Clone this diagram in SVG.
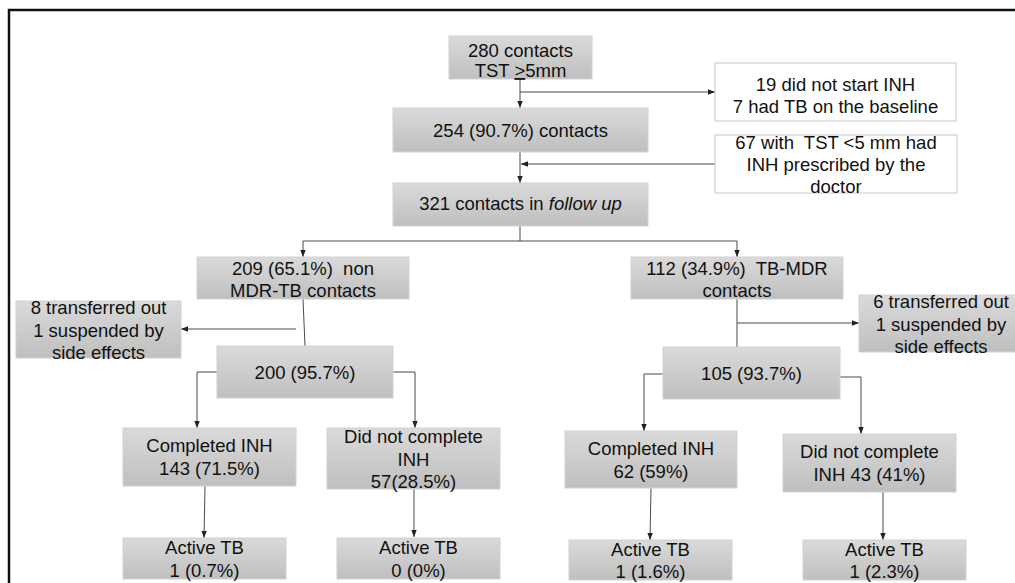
<svg xmlns="http://www.w3.org/2000/svg" width="1015" height="583" viewBox="0 0 1015 583">
<defs>
<linearGradient id="g" x1="0" y1="0" x2="0" y2="1">
<stop offset="0" stop-color="#dadada"/>
<stop offset="1" stop-color="#bfbfbf"/>
</linearGradient>
<marker id="a" markerUnits="userSpaceOnUse" markerWidth="7" markerHeight="7" viewBox="0 0 7 7" refX="7" refY="3.5" orient="auto">
<path d="M0,0.8 L7,3.5 L0,6.2 Z" fill="#222"/>
</marker>
</defs>
<style>
.b{fill:url(#g);stroke:#d2d2d2;stroke-width:1}
.w{fill:#fff;stroke:#c8c8c8;stroke-width:1}
text{font-family:"Liberation Sans",Arial,sans-serif;font-size:18.5px;fill:#111;text-anchor:middle}
.c path{fill:none;stroke:#4a4a4a;stroke-width:1}
.ar{marker-end:url(#a)}
</style>
<rect width="1015" height="583" fill="#fff"/>
<path d="M9,583 V10 H1015" fill="none" stroke="#111" stroke-width="2.5"/>

<g class="c" id="connectors">
<path class="ar" d="M520,79 V108"/>
<path class="ar" d="M520,92 H715"/>
<path class="ar" d="M715,164 H521"/>
<path class="ar" d="M520,152 V183"/>
<path class="ar" d="M520,226 V241 H303 V257"/>
<path class="ar" d="M520,241 H737 V257"/>
<path d="M303,299 L305,346"/>
<path class="ar" d="M296,329 H181"/>
<path class="ar" d="M217,372 H197 V428"/>
<path class="ar" d="M393,372 H415 V428"/>
<path class="ar" d="M205,486 L204,538"/>
<path class="ar" d="M414,489 V537"/>
<path d="M737,299 V347"/>
<path class="ar" d="M737,323 H859"/>
<path class="ar" d="M663,374 H644 V431"/>
<path class="ar" d="M840,377 H861 V434"/>
<path class="ar" d="M651,488 L650,540"/>
<path class="ar" d="M883,492 V540"/>
</g>

<g id="n280"><rect class="b" x="449" y="36" width="143" height="43"/>
<text x="520.5" y="57">280 contacts</text>
<text x="520.5" y="77">TST <tspan text-decoration="underline">&gt;</tspan>5mm</text></g>

<g id="n19"><rect class="w" x="715" y="63" width="241" height="58"/>
<text x="835.5" y="91">19 did not start INH</text>
<text x="835.5" y="113">7 had TB on the baseline</text></g>

<g id="n254"><rect class="b" x="393" y="108" width="255" height="44"/>
<text x="520.5" y="137">254 (90.7%) contacts</text></g>

<g id="n67"><rect class="w" x="715" y="135" width="242" height="58"/>
<text x="836" y="149" xml:space="preserve">67 with  TST &lt;5 mm had</text>
<text x="836" y="171">INH prescribed by the</text>
<text x="836" y="193">doctor</text></g>

<g id="n321"><rect class="b" x="393" y="183" width="255" height="43"/>
<text x="520.5" y="210">321 contacts in <tspan font-style="italic">follow up</tspan></text></g>

<g id="n209"><rect class="b" x="197" y="257" width="212" height="42"/>
<text x="303" y="275" xml:space="preserve">209 (65.1%)  non</text>
<text x="303" y="297">MDR-TB contacts</text></g>

<g id="n112"><rect class="b" x="631" y="257" width="212" height="42"/>
<text x="737" y="275" xml:space="preserve">112 (34.9%)  TB-MDR</text>
<text x="737" y="297">contacts</text></g>

<g id="n8"><rect class="b" x="16" y="301" width="165" height="57"/>
<text x="98.5" y="314">8 transferred out</text>
<text x="98.5" y="337">1 suspended by</text>
<text x="98.5" y="359">side effects</text></g>

<g id="n6"><rect class="b" x="859" y="295" width="165" height="57"/>
<text x="941" y="308">6 transferred out</text>
<text x="941" y="331">1 suspended by</text>
<text x="941" y="353">side effects</text></g>

<g id="n200"><rect class="b" x="217" y="346" width="176" height="52"/>
<text x="305" y="379">200 (95.7%)</text></g>

<g id="n105"><rect class="b" x="663" y="347" width="177" height="52"/>
<text x="751.5" y="380">105 (93.7%)</text></g>

<g id="n143"><rect class="b" x="123" y="428" width="173" height="58"/>
<text x="209.5" y="452">Completed INH</text>
<text x="209.5" y="475">143 (71.5%)</text></g>

<g id="n57"><rect class="b" x="327" y="428" width="173" height="61"/>
<text x="413.5" y="443">Did not complete</text>
<text x="413.5" y="466">INH</text>
<text x="413.5" y="488">57(28.5%)</text></g>

<g id="n62"><rect class="b" x="565" y="431" width="172" height="57"/>
<text x="651" y="455">Completed INH</text>
<text x="651" y="478">62 (59%)</text></g>

<g id="n43"><rect class="b" x="783" y="434" width="173" height="58"/>
<text x="869.5" y="458">Did not complete</text>
<text x="869.5" y="481">INH 43 (41%)</text></g>

<g id="a1"><rect class="b" x="123" y="538" width="163" height="41"/>
<text x="204.5" y="554">Active TB</text>
<text x="204.5" y="577">1 (0.7%)</text></g>

<g id="a2"><rect class="b" x="337" y="538" width="163" height="41"/>
<text x="418.5" y="554">Active TB</text>
<text x="418.5" y="577">0 (0%)</text></g>

<g id="a3"><rect class="b" x="569" y="540" width="163" height="40"/>
<text x="650.5" y="556">Active TB</text>
<text x="650.5" y="578">1 (1.6%)</text></g>

<g id="a4"><rect class="b" x="803" y="540" width="163" height="40"/>
<text x="884.5" y="556">Active TB</text>
<text x="884.5" y="578">1 (2.3%)</text></g>
</svg>
